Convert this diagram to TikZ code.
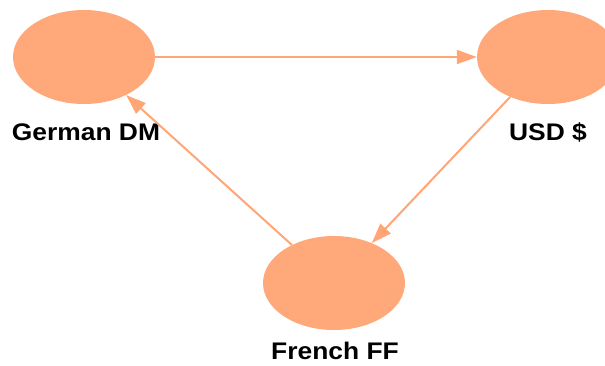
\documentclass[tikz,border=0pt]{standalone}
\usepackage{fontspec}
\usepackage{graphicx}
\setmainfont{Liberation Sans}
\usetikzlibrary{shapes.geometric,arrows.meta}
\definecolor{salmon}{RGB}{255,168,122}
\definecolor{edgec}{RGB}{255,165,118}
\tikzset{
  cur/.style={ellipse, fill=salmon, draw=none, minimum width=142pt, minimum height=94pt, inner sep=0pt},
  lab/.style={anchor=base, inner sep=0pt, font=\fontsize{24}{28}\selectfont\bfseries},
  link/.style={draw=edgec, line width=2pt, -{Triangle[length=20pt,width=14pt]}}
}
\begin{document}
\begin{tikzpicture}[x=1pt,y=-1pt]
\clip (0,0) rectangle (605,365);
\node[cur] (dm) at (84,57) {};
\node[cur] (usd) at (548,57) {};
\node[cur] (ff) at (334,283) {};
\node[lab] (ldm) at (86,140) {\scalebox{1.1}[1]{German DM}};
\node[lab] (lusd) at (548,140) {\scalebox{1.1}[1]{USD \$}};
\node[lab] (lff) at (335,359) {\scalebox{1.1}[1]{French FF}};
\draw[link] (dm) -- (usd);
\draw[link] (usd) -- (ff);
\draw[link] (ff) -- (dm);
\end{tikzpicture}
\end{document}
